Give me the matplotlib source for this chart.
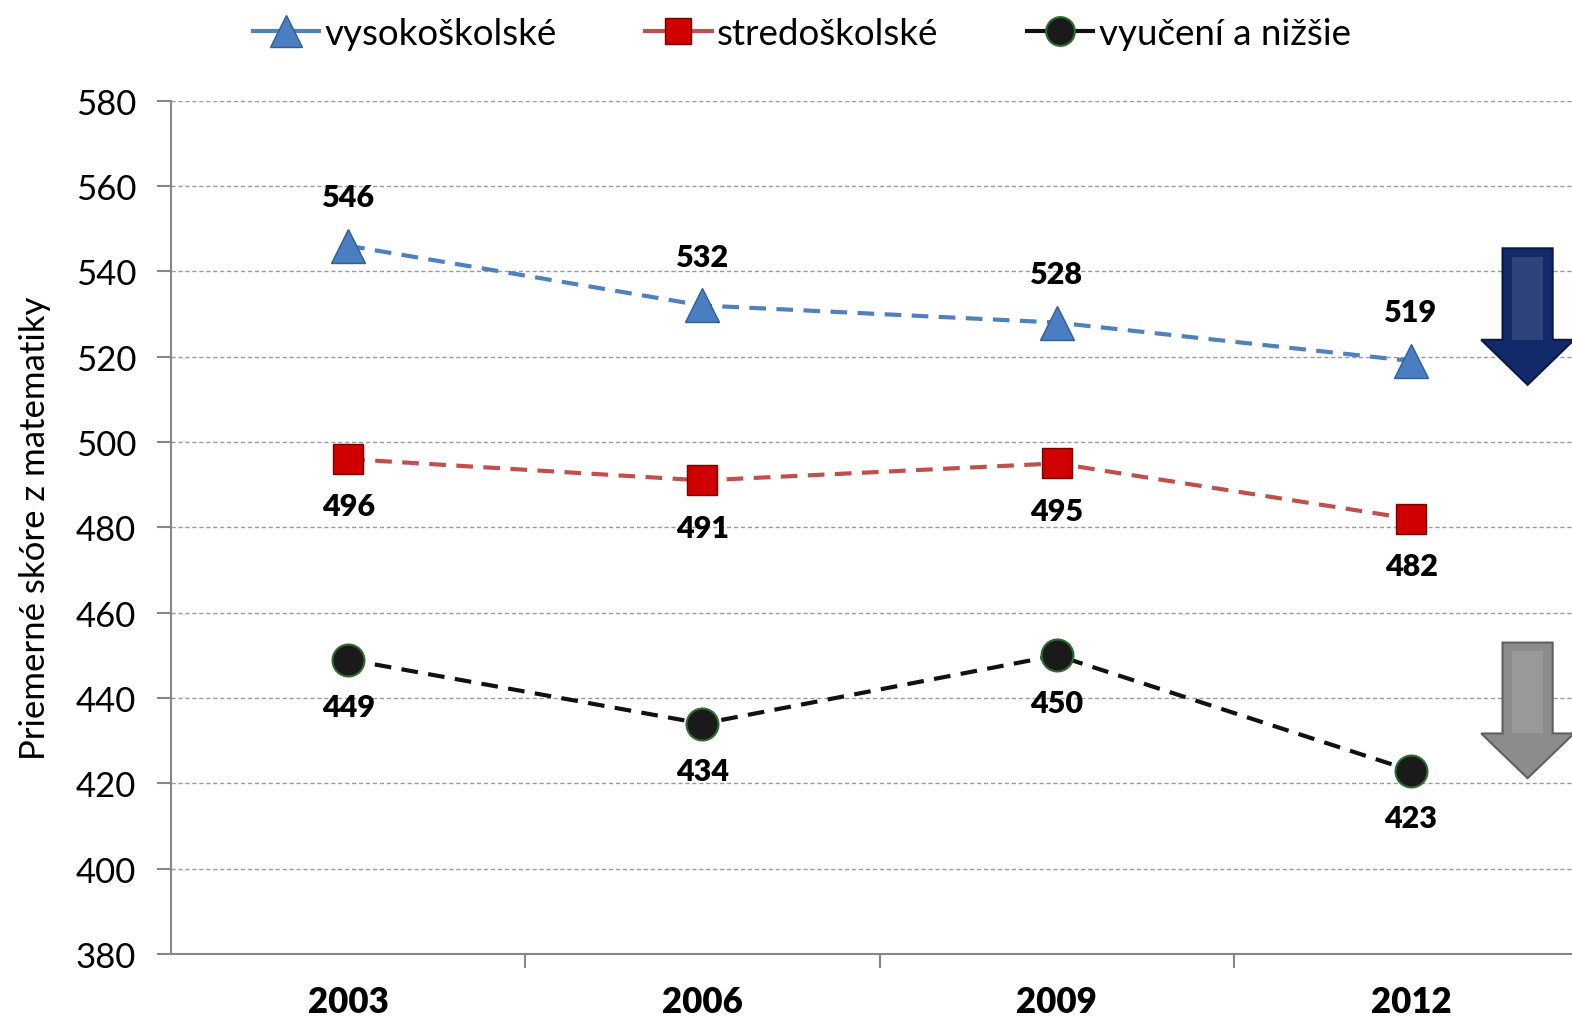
import matplotlib.pyplot as plt
from matplotlib.patches import Polygon
from matplotlib.lines import Line2D

plt.rcParams['font.family'] = ['Lato', 'DejaVu Sans']

years = ['2003', '2006', '2009', '2012']
vysokoskolske = [546, 532, 528, 519]
stredoskolske = [496, 491, 495, 482]
vyuceni = [449, 434, 450, 423]
series_names = ['vysokoškolské', 'stredoškolské', 'vyučení a nižšie']


def down_arrow(ax, x0, x1, y0, y1, face, edge):
    # big block arrow in axes coordinates
    w = x1 - x0
    sx0, sx1 = x0 + w * 0.23, x1 - w * 0.23
    yh = y1 + (y0 - y1) * 0.33
    xm = (x0 + x1) / 2
    pts = [(sx0, y0), (sx1, y0), (sx1, yh), (x1, yh), (xm, y1), (x0, yh), (sx0, yh)]
    ax.add_patch(Polygon(pts, closed=True, transform=ax.transAxes, facecolor=face,
                         edgecolor=edge, lw=1.5, zorder=5, clip_on=False))
    # lighter stripe to fake the bevel
    ax.add_patch(Polygon([(sx0 + w * 0.1, y0 - 0.01), (sx1 - w * 0.1, y0 - 0.01),
                          (sx1 - w * 0.1, yh), (sx0 + w * 0.1, yh)], closed=True,
                         transform=ax.transAxes, facecolor='white', alpha=0.12,
                         lw=0, zorder=6, clip_on=False))


fig = plt.figure(figsize=(15.72, 10.2), dpi=100)
ax = fig.add_axes([0.1088, 0.0637, 0.9015, 0.8366])

styles = [
    dict(color='#4F81BD', marker='^', ms=25, mfc='#4A7EC0', mec='#2F5F96', mew=1),
    dict(color='#C0504D', marker='s', ms=21, mfc='#D00000', mec='#7A0000', mew=1),
    dict(color='#111111', marker='o', ms=23, mfc='#1a1a1a', mec='#2E6B2E', mew=1.5),
]

x = range(len(years))
for vals, st in zip((vysokoskolske, stredoskolske, vyuceni), styles):
    ax.plot(x, vals, ls=(0, (4, 2.5)), lw=3, zorder=3, **st)

for i, v in enumerate(vysokoskolske):
    ax.annotate(str(v), (i, v), xytext=(0, 35), textcoords='offset points',
                ha='center', va='center', fontsize=22, fontweight='heavy')
for vals in (stredoskolske, vyuceni):
    for i, v in enumerate(vals):
        ax.annotate(str(v), (i, v), xytext=(0, -34), textcoords='offset points',
                    ha='center', va='center', fontsize=22, fontweight='heavy')

ax.set_xlim(-0.5, 3.5)
ax.set_ylim(380, 580)
ax.set_yticks(range(380, 581, 20))
ax.set_xticks(x)
ax.set_xticklabels(years, fontsize=25, fontweight='heavy')
ax.set_xticks([0.5, 1.5, 2.5], minor=True)
ax.tick_params(axis='x', which='major', length=0, pad=22)
ax.tick_params(axis='x', which='minor', length=10, width=1.5, color='#888888')
ax.tick_params(axis='y', labelsize=25, length=10, width=1.5, color='#888888', pad=15)
ax.grid(axis='y', ls=(0, (3, 2)), color='#999999', lw=1)
ax.set_axisbelow(True)
for s in ['top', 'right']:
    ax.spines[s].set_visible(False)
for s in ['left', 'bottom']:
    ax.spines[s].set_color('#888888')
    ax.spines[s].set_linewidth(1.5)
ax.set_ylabel('Priemerné skóre z matematiky', fontsize=25, labelpad=18)

down_arrow(ax, 0.9245, 0.99, 0.827, 0.667, '#12296A', '#0A1A48')
down_arrow(ax, 0.9245, 0.99, 0.365, 0.206, '#8C8C8C', '#606060')

handles = [Line2D([], [], lw=3, **dict(st, ms=st['ms'] * 0.9)) for st in styles]
fig.legend(handles, series_names, loc='upper center', bbox_to_anchor=(0.51, 1.015),
           ncol=3, frameon=False, fontsize=26.5, handlelength=1.8, handletextpad=0.15,
           columnspacing=2.4)

fig.savefig('out.png', dpi=100)
